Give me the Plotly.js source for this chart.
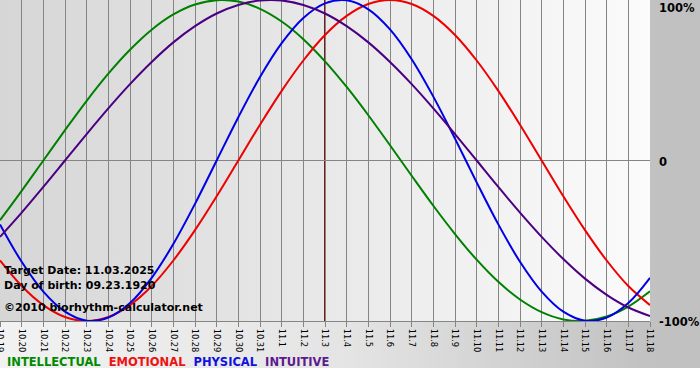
<!DOCTYPE html>
<html>
<head>
<meta charset="utf-8">
<script src="https://cdn.plot.ly/plotly-3.0.1.min.js"></script>
<style>
html,body{margin:0;padding:0;background:#ffffff;width:700px;height:380px;overflow:hidden}
#outer{position:absolute;left:0;top:0;width:700px;height:368px;background:linear-gradient(to right,#f2f2f2 0%,#e4e4e4 50%,#c2c2c2 92%,#c0c0c0 100%)}
#inner{position:absolute;left:0;top:0;width:650px;height:321px;background:linear-gradient(to right,#d6d6d6 0%,#fbfbfb 100%)}
#chart{position:absolute;left:0;top:0;width:700px;height:380px}
</style>
</head>
<body>
<div id="outer"></div>
<div id="inner"></div>
<div id="chart"></div>
<script>
// Day labels (month.day)
var dates = ['10.19','10.20','10.21','10.22','10.23','10.24','10.25','10.26','10.27','10.28','10.29','10.30','10.31',
             '11.1','11.2','11.3','11.4','11.5','11.6','11.7','11.8','11.9','11.10','11.11','11.12','11.13','11.14','11.15','11.16','11.17','11.18'];

// Cycle values (fraction of 100%) read per day
var intellectual = [-0.372,-0.189,0,0.189,0.372,0.541,0.690,0.815,0.910,0.972,0.999,0.990,0.945,0.866,0.756,0.618,0.458,0.282,0.095,-0.095,-0.282,-0.458,-0.618,-0.756,-0.866,-0.945,-0.990,-0.999,-0.972,-0.910,-0.815];
var emotional    = [-0.623,-0.782,-0.901,-0.975,-1.000,-0.975,-0.901,-0.782,-0.623,-0.434,-0.223,0,0.223,0.434,0.623,0.782,0.901,0.975,1.000,0.975,0.901,0.782,0.623,0.434,0.223,0,-0.223,-0.434,-0.623,-0.782,-0.901];
var physical     = [-0.398,-0.631,-0.817,-0.942,-0.998,-0.979,-0.888,-0.731,-0.520,-0.270,0,0.270,0.520,0.731,0.888,0.979,0.998,0.942,0.817,0.631,0.398,0.136,-0.136,-0.398,-0.631,-0.817,-0.942,-0.998,-0.979,-0.888,-0.731];
var intuitive    = [-0.476,-0.325,-0.165,0,0.165,0.325,0.476,0.614,0.736,0.837,0.916,0.969,0.997,0.997,0.969,0.916,0.837,0.736,0.614,0.476,0.325,0.165,0,-0.165,-0.325,-0.476,-0.614,-0.736,-0.837,-0.916,-0.969];

var seriesNames = ['INTELLECTUAL','EMOTIONAL','PHYSICAL','INTUITIVE'];
var seriesData = [intellectual, emotional, physical, intuitive];

var yTickVals = [1, 0, -1];
var yTickText = ['100%', '0', '-100%'];

var targetDay = '11.3';
var infoLines = ['Target Date: 11.03.2025', 'Day of birth: 09.23.1920', '\u00a92010 biorhythm-calculator.net'];

// styles
var seriesColors = ['#008000', '#ee0000', '#0000e6', '#4b0082'];
var legendColors = ['#008a00', '#ee1111', '#1111dd', '#5c1a8e'];

var traces = seriesData.map(function (vals, k) {
  return {
    x: dates, y: vals, type: 'scatter', mode: 'lines', name: seriesNames[k],
    line: {color: seriesColors[k], width: 2, shape: 'spline', smoothing: 1},
    hoverinfo: 'skip', showlegend: false, cliponaxis: true
  };
});

var annotations = [];
var yShifts = [-7.5, -1.5, -1];
yTickVals.forEach(function (v, k) {
  annotations.push({
    xref: 'paper', yref: 'y', x: 1, y: v, xanchor: 'left', yanchor: 'middle',
    xshift: 7, yshift: yShifts[k], showarrow: false, text: yTickText[k],
    font: {family: 'DejaVu Sans', size: 11.5, color: '#000000', weight: 'bold'}
  });
});

var infoY = [0.1558, 0.112, 0.0436];
infoLines.forEach(function (t, k) {
  annotations.push({
    xref: 'paper', yref: 'paper', x: 0, y: infoY[k], xanchor: 'left', yanchor: 'middle',
    xshift: 2, showarrow: false, text: t,
    font: {family: 'DejaVu Sans', size: 11, color: '#000000', weight: 'bold'}
  });
});

var legendText = seriesNames.map(function (n, k) {
  return '<span style="color:' + legendColors[k] + '">' + n + '</span>';
}).join('&nbsp;&nbsp;');
annotations.push({
  xref: 'paper', yref: 'paper', x: 0, y: -0.1277, xanchor: 'left', yanchor: 'middle',
  xshift: 5, showarrow: false, text: legendText,
  font: {family: 'DejaVu Sans', size: 11.5, weight: 'bold'}
});

var targetIdx = dates.indexOf(targetDay);

var layout = {
  width: 700, height: 380,
  margin: {l: 0, r: 50, t: 0, b: 59, pad: 0},
  paper_bgcolor: 'rgba(0,0,0,0)',
  plot_bgcolor: 'rgba(0,0,0,0)',
  showlegend: false,
  xaxis: {
    type: 'category', range: [0, dates.length - 1],
    showgrid: true, gridcolor: '#858585', gridwidth: 1,
    showline: true, linecolor: '#858585', linewidth: 1,
    ticks: 'outside', ticklen: 5, tickcolor: '#858585', tickwidth: 1,
    tickangle: 90, tickfont: {family: 'DejaVu Sans', size: 8.3, color: '#000000'},
    zeroline: false, fixedrange: true
  },
  yaxis: {
    range: [-1, 1], showgrid: false, showticklabels: false,
    zeroline: true, zerolinecolor: '#858585', zerolinewidth: 1,
    showline: false, ticks: '', fixedrange: true
  },
  shapes: [{
    type: 'line', xref: 'x', yref: 'paper', x0: targetIdx, x1: targetIdx, y0: 0, y1: 1,
    line: {color: '#7d1a1a', width: 2}, layer: 'between'
  }],
  annotations: annotations
};

Plotly.newPlot('chart', traces, layout, {staticPlot: true, displayModeBar: false});
</script>
</body>
</html>
